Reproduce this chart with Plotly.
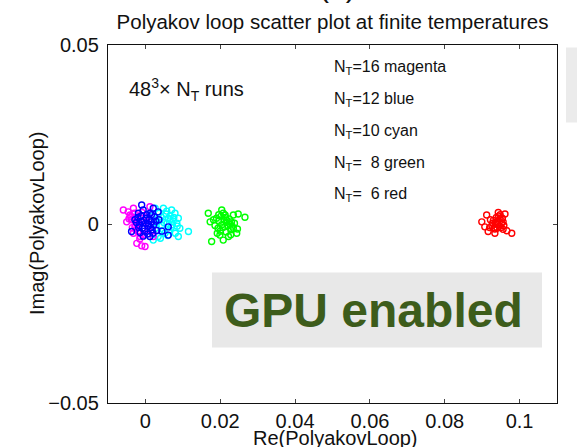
import plotly.graph_objects as go

# Polyakov loop samples (Re, Im) for each temporal extent N_T on a 48^3 lattice
nt16_magenta = [
    (-0.0059, 0.0039), (-0.0046, 0.0034), (-0.0032, 0.0044), (-0.0041, 0.0025),
    (-0.0050, 0.0006), (-0.0028, -0.0008), (-0.0023, -0.0054), (-0.0010, -0.0061),
    (-0.0001, -0.0063), (-0.0032, -0.0026), (0.0012, 0.0048), (0.0021, -0.0035),
    (-0.0014, -0.0035), (-0.0038, 0.0012), (-0.0025, 0.0018), (-0.0018, 0.0002),
    (-0.0008, -0.0012), (0.0003, 0.0010), (-0.0020, -0.0020), (-0.0030, 0.0030),
    (-0.0012, 0.0024), (-0.0005, -0.0030), (0.0008, -0.0015), (-0.0035, -0.0010),
    (-0.0022, 0.0008), (-0.0015, -0.0042), (-0.0027, -0.0004), (0.0002, 0.0020),
    (-0.0044, 0.0015), (-0.0009, 0.0032), (-0.0017, -0.0022), (0.0010, -0.0005),
    (-0.0026, -0.0016), (-0.0006, 0.0004), (-0.0039, 0.0021),
]
nt12_blue = [
    (-0.0010, 0.0053), (-0.0006, 0.0039), (0.0021, 0.0044), (-0.0019, 0.0030),
    (-0.0037, -0.0021), (0.0012, -0.0035), (0.0061, -0.0008), (0.0061, -0.0031),
    (0.0034, 0.0034), (-0.0020, 0.0018), (-0.0012, 0.0022), (-0.0004, 0.0010),
    (0.0004, 0.0026), (0.0010, 0.0014), (0.0016, 0.0006), (0.0024, 0.0020),
    (-0.0016, -0.0004), (-0.0008, -0.0012), (0.0000, 0.0002), (0.0008, -0.0006),
    (0.0018, -0.0016), (0.0028, 0.0008), (-0.0024, 0.0004), (-0.0014, -0.0024),
    (-0.0002, -0.0020), (0.0006, -0.0028), (0.0014, -0.0010), (0.0022, -0.0002),
    (0.0030, -0.0018), (-0.0010, 0.0006), (0.0002, 0.0016), (0.0012, 0.0030),
    (-0.0018, -0.0010), (0.0020, -0.0026), (-0.0006, -0.0034), (0.0036, 0.0012),
    (0.0044, -0.0020), (-0.0028, 0.0012), (0.0008, 0.0000), (0.0016, 0.0026),
]
nt10_cyan = [
    (0.0026, 0.0044), (0.0048, 0.0044), (0.0070, 0.0039), (0.0079, 0.0030),
    (0.0088, 0.0016), (0.0084, 0.0002), (0.0092, -0.0012), (0.0115, -0.0021),
    (0.0088, -0.0035), (0.0061, 0.0016), (0.0039, 0.0011), (0.0048, -0.0017),
    (0.0034, -0.0035), (0.0021, -0.0045), (0.0055, 0.0028), (0.0066, 0.0022),
    (0.0074, 0.0008), (0.0058, 0.0002), (0.0044, -0.0004), (0.0069, -0.0010),
    (0.0080, -0.0026), (0.0052, -0.0026), (0.0036, 0.0030), (0.0063, -0.0018),
    (0.0072, -0.0002), (0.0042, 0.0020), (0.0027, -0.0012), (0.0057, 0.0036),
    (0.0085, -0.0006), (0.0066, 0.0012), (0.0049, 0.0004), (0.0030, 0.0008),
    (0.0076, 0.0018), (0.0060, -0.0032), (0.0018, 0.0022), (0.0040, -0.0040),
]
nt8_green = [
    (0.0168, 0.0030), (0.0204, 0.0039), (0.0213, 0.0025), (0.0235, 0.0025),
    (0.0248, 0.0028), (0.0266, 0.0019), (0.0173, 0.0006), (0.0177, -0.0049),
    (0.0199, -0.0031), (0.0208, -0.0045), (0.0222, -0.0035), (0.0244, -0.0026),
    (0.0235, -0.0012), (0.0190, 0.0016), (0.0196, 0.0008), (0.0202, 0.0022),
    (0.0210, 0.0012), (0.0216, 0.0004), (0.0224, 0.0014), (0.0230, 0.0006),
    (0.0186, -0.0004), (0.0194, -0.0012), (0.0204, -0.0002), (0.0212, -0.0008),
    (0.0220, -0.0004), (0.0228, -0.0016), (0.0238, 0.0002), (0.0200, -0.0020),
    (0.0208, 0.0030), (0.0216, -0.0022), (0.0226, 0.0000), (0.0182, 0.0012),
    (0.0192, -0.0026), (0.0214, 0.0018), (0.0232, -0.0006), (0.0246, -0.0014),
    (0.0206, -0.0010), (0.0218, 0.0010), (0.0196, 0.0026), (0.0228, -0.0030),
]
nt6_red = [
    (0.0912, 0.0025), (0.0899, 0.0006), (0.0907, -0.0008), (0.0916, -0.0021),
    (0.0934, -0.0026), (0.0943, 0.0032), (0.0961, 0.0028), (0.0956, 0.0006),
    (0.0956, -0.0015), (0.0966, -0.0019), (0.0979, -0.0026), (0.0930, 0.0010),
    (0.0936, 0.0004), (0.0942, -0.0002), (0.0948, 0.0014), (0.0926, -0.0004),
    (0.0932, -0.0010), (0.0940, 0.0008), (0.0946, -0.0006), (0.0952, 0.0002),
    (0.0928, 0.0002), (0.0938, 0.0018), (0.0944, 0.0022), (0.0950, -0.0010),
    (0.0922, 0.0012), (0.0934, -0.0014), (0.0940, -0.0012), (0.0954, 0.0016),
    (0.0948, 0.0026), (0.0920, -0.0010), (0.0958, -0.0004), (0.0936, 0.0000),
]

x_ticks = [0, 0.02, 0.04, 0.06, 0.08, 0.1]
x_tick_labels = ["0", "0.02", "0.04", "0.06", "0.08", "0.1"]
y_ticks = [-0.05, 0, 0.05]
y_tick_labels = ["\u22120.05", "0", "0.05"]

legend_lines = [
    "N<sub>T</sub>=16 magenta",
    "N<sub>T</sub>=12 blue",
    "N<sub>T</sub>=10 cyan",
    "N<sub>T</sub>=\u00a0\u00a08 green",
    "N<sub>T</sub>=\u00a0\u00a06 red",
]

FONT = "Liberation Sans, Arial, Helvetica, sans-serif"
INK = "#111"

series = [
    (nt8_green, "#00ff00"),
    (nt6_red, "#ff0000"),
    (nt10_cyan, "#00ffff"),
    (nt16_magenta, "#ff00ff"),
    (nt12_blue, "#0000ff"),
]

fig = go.Figure()
for pts, color in series:
    fig.add_trace(go.Scatter(
        x=[p[0] for p in pts],
        y=[p[1] for p in pts],
        mode="markers",
        marker=dict(symbol="circle-open", size=6, color=color,
                    line=dict(width=1.4, color=color)),
        showlegend=False,
        hoverinfo="skip",
    ))

axis_common = dict(
    showline=True, linecolor=INK, linewidth=1.3, mirror="ticks",
    ticks="inside", ticklen=4, tickwidth=1, tickcolor="#444",
    showgrid=False, zeroline=False, automargin=False,
    tickfont=dict(family=FONT, size=20, color=INK),
)

fig.update_layout(
    width=577, height=447,
    margin=dict(l=108, r=20, t=45, b=44),
    paper_bgcolor="white", plot_bgcolor="white",
    font=dict(family=FONT, color=INK),
    title=dict(text="Polyakov loop scatter plot at finite temperatures",
               x=(108 + 557) / 2 / 577, xanchor="center",
               y=1 - 22 / 447, yanchor="middle",
               font=dict(family=FONT, size=20.5, color=INK)),
    xaxis=dict(range=[-0.01, 0.11], tickvals=x_ticks, ticktext=x_tick_labels,
               ticklabelstandoff=0, **axis_common),
    yaxis=dict(range=[-0.05, 0.05], tickvals=y_ticks, ticktext=y_tick_labels,
               ticklabelstandoff=4, **axis_common),
)

W, H = 449.0, 358.0  # plot area size in px


def px_x(px):
    return (px - 108) / W


def px_y(py):
    return (403 - py) / H


# axis titles
fig.add_annotation(text="Re(PolyakovLoop)", xref="paper", yref="paper",
                   x=px_x(335.5), y=px_y(438), xanchor="center", yanchor="middle",
                   showarrow=False, font=dict(family=FONT, size=20, color=INK))
fig.add_annotation(text="Imag(PolyakovLoop)", xref="paper", yref="paper",
                   x=px_x(37), y=px_y(224), xanchor="center", yanchor="middle",
                   textangle=-90, showarrow=False,
                   font=dict(family=FONT, size=20, color=INK))

# "GPU enabled" banner
fig.add_shape(type="rect", xref="paper", yref="paper",
              x0=px_x(212), x1=px_x(542), y0=px_y(347.5), y1=px_y(272.5),
              fillcolor="#e8e8e8", line=dict(width=0), layer="above")
fig.add_annotation(text="<b>GPU enabled</b>", xref="paper", yref="paper",
                   x=px_x(373.5), y=px_y(310), xanchor="center", yanchor="middle",
                   showarrow=False,
                   font=dict(family=FONT, size=48, color="#3d5c1b"))

# side panel at the right edge
fig.add_shape(type="rect", xref="paper", yref="paper",
              x0=px_x(566), x1=px_x(590), y0=px_y(122.5), y1=px_y(47.5),
              fillcolor="#ebebeb", line=dict(width=0), layer="above")

# lattice label
fig.add_annotation(text="48<sup>3</sup>\u00d7 N<sub>T</sub> runs", xref="paper", yref="paper",
                   x=px_x(127), y=px_y(89), xanchor="left", yanchor="middle",
                   showarrow=False, font=dict(family=FONT, size=20, color=INK))

# colour key
for i, line in enumerate(legend_lines):
    fig.add_annotation(text=line, xref="paper", yref="paper",
                       x=px_x(332), y=px_y(67 + 32 * i), xanchor="left", yanchor="middle",
                       showarrow=False, font=dict(family=FONT, size=16, color=INK))

# panel label, mostly above the page top
fig.add_annotation(text="(a)", xref="paper", yref="paper",
                   x=px_x(337), y=px_y(-14), xanchor="center", yanchor="middle",
                   showarrow=False, font=dict(family=FONT, size=30, color=INK))

fig.write_html("out.html")
